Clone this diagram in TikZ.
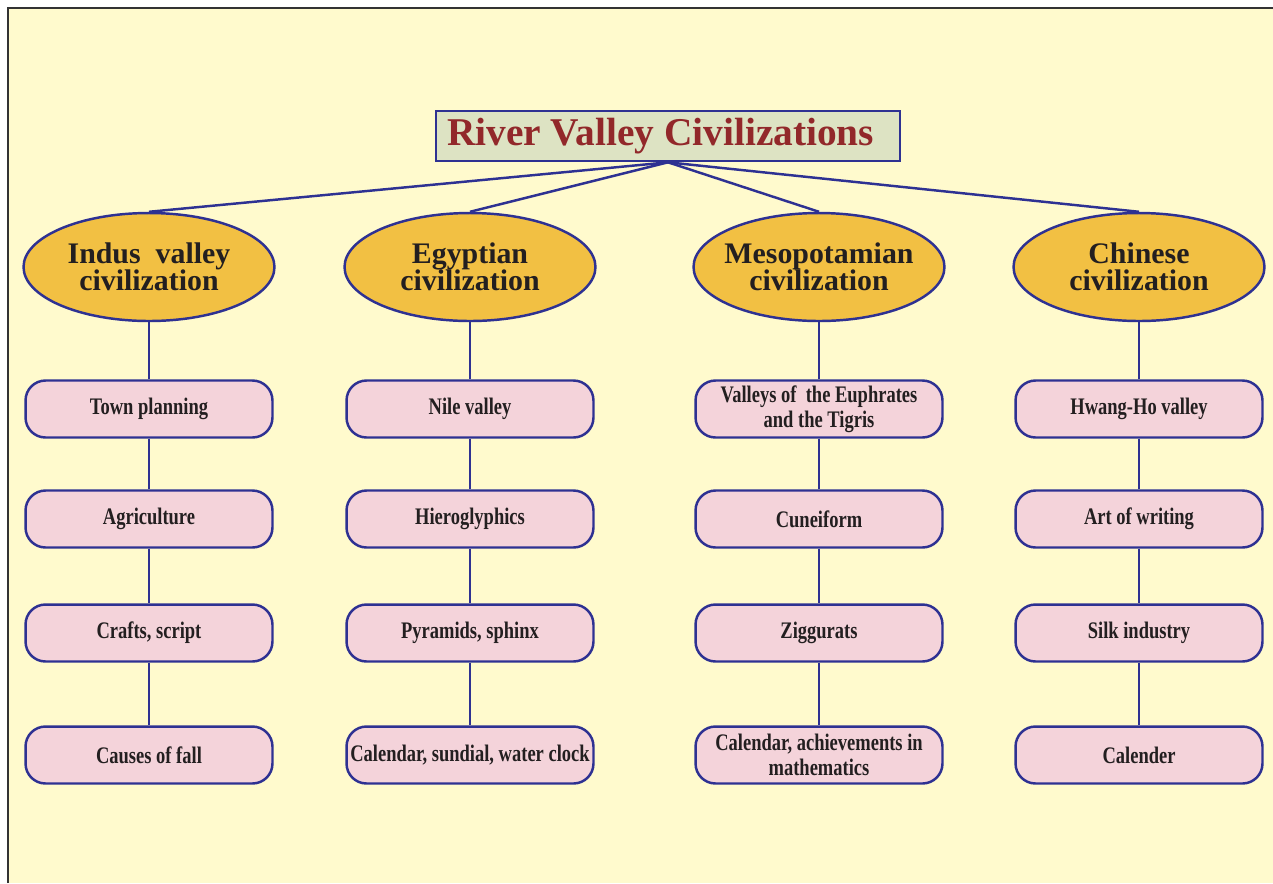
\documentclass[tikz,border=0pt]{standalone}
\usepackage{fontspec}
\setmainfont{Liberation Serif}
\newfontfamily\narrowfont[FakeStretch=0.78]{Liberation Serif}
\usetikzlibrary{shapes.geometric}

\definecolor{bgyellow}{RGB}{255,250,205}
\definecolor{linkblue}{RGB}{46,49,146}
\definecolor{titlefill}{RGB}{221,227,195}
\definecolor{titlered}{RGB}{146,40,42}
\definecolor{civgold}{RGB}{242,192,67}
\definecolor{topicpink}{RGB}{244,211,218}
\definecolor{inkblack}{RGB}{35,31,32}

\tikzset{
  titlebox/.style={draw=linkblue,line width=1.5pt,fill=titlefill,text=titlered,
    minimum width=9.28cm,minimum height=1cm,inner sep=0pt,
    font=\bfseries\fontsize{22.4}{24}\selectfont},
  civ/.style={ellipse,draw=linkblue,line width=1.4pt,fill=civgold,text=inkblack,
    minimum width=5.02cm,minimum height=2.16cm,inner xsep=-12pt,inner ysep=0pt,
    align=center,font=\bfseries\fontsize{17}{15.6}\selectfont},
  topic/.style={rectangle,rounded corners=0.4cm,draw=linkblue,line width=1.4pt,
    fill=topicpink,text=inkblack,minimum width=4.94cm,minimum height=1.14cm,
    inner sep=0pt,align=center,font=\narrowfont\bfseries\fontsize{13.5}{14}\selectfont},
  link/.style={draw=linkblue,line width=1.4pt}
}

\begin{document}
\begin{tikzpicture}[x=0.02cm,y=-0.02cm]
  \useasboundingbox (0,0) rectangle (1273,883);
  \fill[bgyellow] (8,8) rectangle (1273,883);
  \draw[black!80,line width=1.7pt] (8,883) -- (8,8) -- (1273,8);

  \node[titlebox] (title) at (668,136)
    {\makebox[9.28cm][l]{\hspace{0.22cm}River Valley Civilizations}};

  \node[civ] (indus) at (149,267) {Indus\ \ valley\\civilization};
  \node[civ] (egypt) at (470,267) {Egyptian\\civilization};
  \node[civ] (meso) at (819,267) {Mesopotamian\\civilization};
  \node[civ] (china) at (1139,267) {Chinese\\civilization};

  % Indus valley
  \node[topic] (indus1) at (149,409) {Town planning};
  \node[topic] (indus2) at (149,519) {Agriculture};
  \node[topic] (indus3) at (149,633) {Crafts, script};
  \node[topic] (indus4) at (149,755) {Causes of fall};

  % Egypt
  \node[topic] (egypt1) at (470,409) {Nile valley};
  \node[topic] (egypt2) at (470,519) {Hieroglyphics};
  \node[topic] (egypt3) at (470,633) {Pyramids, sphinx};
  \node[topic] (egypt4) at (470,755) {Calendar, sundial, water clock};

  % Mesopotamia
  \node[topic] (meso1) at (819,409) {Valleys of\ \ the Euphrates\\and the Tigris};
  \node[topic] (meso2) at (819,519) {Cuneiform};
  \node[topic] (meso3) at (819,633) {Ziggurats};
  \node[topic] (meso4) at (819,755) {Calendar, achievements in\\mathematics};

  % China
  \node[topic] (china1) at (1139,409) {Hwang-Ho valley};
  \node[topic] (china2) at (1139,519) {Art of writing};
  \node[topic] (china3) at (1139,633) {Silk industry};
  \node[topic] (china4) at (1139,755) {Calender};

  \foreach \c in {indus,egypt,meso,china}{
    \draw[link] (title.south) -- (\c.north);
    \draw[link] (\c.south) -- (\c1.north);
    \draw[link] (\c1.south) -- (\c2.north);
    \draw[link] (\c2.south) -- (\c3.north);
    \draw[link] (\c3.south) -- (\c4.north);
  }
\end{tikzpicture}
\end{document}
